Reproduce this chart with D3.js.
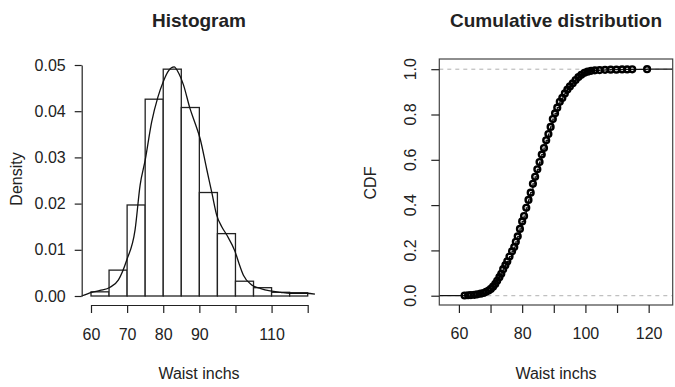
<!DOCTYPE html>
<html>
<head>
<meta charset="utf-8">
<script src="https://cdn.jsdelivr.net/npm/d3@7"></script>
<style>
  body { margin: 0; background: #fff; }
  svg text { font-family: "Liberation Sans", Arial, sans-serif; fill: #222; }
</style>
</head>
<body>
<div id="chart"></div>
<script>
// histogram bins (density per 5-inch bin)
const binStarts = [60, 65, 70, 75, 80, 85, 90, 95, 100, 105, 110, 115];
const binDensity = [0.0009, 0.0056, 0.0197, 0.0426, 0.0491, 0.0408, 0.0224, 0.0135, 0.0032, 0.0018, 0.0008, 0.0007];
const binWidth = 5;

// kernel density curve
const densX = [57.4, 60.2, 62.5, 65.3, 67.6, 69.9, 72.2, 73.6, 75.0, 76.8, 78.5, 80.0, 81.5, 83.0, 84.3, 85.6, 87.4, 89.0, 90.2, 92.0, 93.5, 94.8, 96.2, 97.6, 99.9, 101.0, 102.2, 104.5, 107.0, 109.6, 112.5, 115.1, 117.5, 119.7, 122.0];
const densY = [0.0000, 0.0008, 0.0012, 0.0019, 0.0035, 0.0078, 0.0143, 0.0240, 0.0294, 0.0377, 0.0430, 0.0464, 0.0488, 0.0496, 0.0482, 0.0457, 0.0406, 0.0370, 0.0341, 0.0276, 0.0222, 0.0175, 0.0150, 0.0132, 0.0096, 0.0070, 0.0045, 0.0024, 0.0016, 0.0011, 0.0008, 0.0006, 0.0006, 0.0006, 0.0004];

// empirical CDF points
const waist = [61.8, 62.9, 63.8, 64.9, 65.8, 66.9, 67.8, 68.6, 69.4, 70.1, 70.8, 71.5, 72.1, 72.8, 73.4, 74.0, 74.7, 75.3, 76.0, 76.8, 77.5, 78.0, 78.6, 79.3, 80.0, 80.6, 81.3, 82.0, 82.7, 83.4, 84.1, 84.8, 85.5, 86.2, 86.9, 87.6, 88.3, 89.0, 89.7, 90.4, 91.1, 91.9, 92.7, 93.5, 94.3, 95.1, 96.0, 96.9, 97.8, 98.7, 99.7, 100.7, 101.8, 103.0, 104.5, 106.2, 108.0, 109.8, 111.6, 113.2, 114.8, 119.5];
const cdf = [0.001, 0.002, 0.003, 0.004, 0.006, 0.009, 0.012, 0.017, 0.023, 0.030, 0.040, 0.052, 0.066, 0.082, 0.097, 0.117, 0.135, 0.152, 0.173, 0.196, 0.215, 0.238, 0.262, 0.295, 0.328, 0.352, 0.388, 0.423, 0.455, 0.494, 0.525, 0.558, 0.590, 0.623, 0.652, 0.686, 0.714, 0.745, 0.780, 0.805, 0.830, 0.856, 0.873, 0.893, 0.910, 0.924, 0.938, 0.952, 0.965, 0.975, 0.984, 0.989, 0.993, 0.995, 0.996, 0.997, 0.998, 0.998, 0.999, 0.999, 0.9995, 1.0];

// ticks
const histXTicks = [60, 70, 80, 90, 100, 110, 120];
const histXLabels = ["60", "70", "80", "90", "", "110", ""];
const histYTicks = [0, 0.01, 0.02, 0.03, 0.04, 0.05];
const cdfXTicks = [60, 70, 80, 90, 100, 110, 120];
const cdfXLabels = ["60", "", "80", "", "100", "", "120"];
const cdfYTicks = [0, 0.2, 0.4, 0.6, 0.8, 1.0];

const width = 675, height = 387;
const svg = d3.select("#chart").append("svg")
  .attr("width", width)
  .attr("height", height);

// ---------- left: histogram ----------
const hx = d3.scaleLinear().domain([60, 120]).range([91, 307.7]);
const hy = d3.scaleLinear().domain([0, 0.05]).range([296, 65]);

const left = svg.append("g");

left.selectAll(".bar")
  .data(binStarts)
  .enter()
  .append("rect")
  .attr("class", "bar")
  .attr("x", (d) => hx(d))
  .attr("width", (d) => hx(d + binWidth) - hx(d))
  .attr("y", (d, i) => hy(binDensity[i]))
  .attr("height", (d, i) => hy(0) - hy(binDensity[i]))
  .attr("fill", "#fff")
  .attr("stroke", "#222")
  .attr("stroke-width", 1.3);

const densLine = d3.line()
  .x((d) => hx(d[0]))
  .y((d) => hy(d[1]))
  .curve(d3.curveMonotoneX);

left.append("path")
  .datum(densX.map((v, i) => [v, densY[i]]))
  .attr("d", densLine)
  .attr("fill", "none")
  .attr("stroke", "#111")
  .attr("stroke-width", 1.3);

const hxAxis = left.append("g")
  .attr("transform", "translate(0,305)")
  .call(d3.axisBottom(hx).tickValues(histXTicks).tickSize(8).tickSizeOuter(0).tickPadding(16)
    .tickFormat((d, i) => histXLabels[i]));

const hyAxis = left.append("g")
  .attr("transform", "translate(81.7,0)")
  .call(d3.axisLeft(hy).tickValues(histYTicks).tickSize(7).tickSizeOuter(0).tickPadding(9)
    .tickFormat(d3.format(".2f")));

[hxAxis, hyAxis].forEach((g) => {
  g.selectAll("path, line").attr("stroke", "#222").attr("stroke-width", 1.2);
  g.selectAll("text").style("font-size", "16px").attr("fill", "#222");
});

left.append("text")
  .attr("x", 199)
  .attr("y", 27)
  .attr("text-anchor", "middle")
  .style("font-size", "19px")
  .style("font-weight", "bold")
  .text("Histogram");

left.append("text")
  .attr("x", 199)
  .attr("y", 379)
  .attr("text-anchor", "middle")
  .style("font-size", "16px")
  .text("Waist inchs");

left.append("text")
  .attr("transform", "translate(21.5,179) rotate(-90)")
  .attr("text-anchor", "middle")
  .style("font-size", "16px")
  .text("Density");

// ---------- right: cumulative distribution ----------
const cx = d3.scaleLinear().domain([53.8, 127.6]).range([439.3, 672.7]);
const cy = d3.scaleLinear().domain([-0.041, 1.045]).range([305, 59]);

const right = svg.append("g");

// dashed reference lines at 0 and 1
right.selectAll(".ref")
  .data([0, 1])
  .enter()
  .append("line")
  .attr("x1", cx.range()[0])
  .attr("x2", cx.range()[1])
  .attr("y1", (d) => cy(d))
  .attr("y2", (d) => cy(d))
  .attr("stroke", "#b0b0b0")
  .attr("stroke-width", 1)
  .attr("stroke-dasharray", "4,4");

// step function
const stepPts = [[cx.domain()[0], 0]]
  .concat(waist.map((v, i) => [v, cdf[i]]))
  .concat([[cx.domain()[1], 1]]);

right.append("path")
  .datum(stepPts)
  .attr("d", d3.line().x((d) => cx(d[0])).y((d) => cy(d[1])).curve(d3.curveStepAfter))
  .attr("fill", "none")
  .attr("stroke", "#111")
  .attr("stroke-width", 1.2);

right.selectAll(".pt")
  .data(waist)
  .enter()
  .append("circle")
  .attr("class", "pt")
  .attr("cx", (d) => cx(d))
  .attr("cy", (d, i) => cy(cdf[i]))
  .attr("r", 2.9)
  .attr("fill", "none")
  .attr("stroke", "#000")
  .attr("stroke-width", 2.4);

// box
right.append("rect")
  .attr("x", 439.3)
  .attr("y", 59)
  .attr("width", 672.7 - 439.3)
  .attr("height", 305 - 59)
  .attr("fill", "none")
  .attr("stroke", "#444")
  .attr("stroke-width", 1.2);

const cxAxis = right.append("g")
  .attr("transform", "translate(0,305)")
  .call(d3.axisBottom(cx).tickValues(cdfXTicks).tickSize(8).tickSizeOuter(0).tickPadding(15)
    .tickFormat((d, i) => cdfXLabels[i]));
cxAxis.select(".domain").remove();

const cyAxis = right.append("g")
  .attr("transform", "translate(439.3,0)")
  .call(d3.axisLeft(cy).tickValues(cdfYTicks).tickSize(8).tickSizeOuter(0).tickFormat(""));
cyAxis.select(".domain").remove();

[cxAxis, cyAxis].forEach((g) => {
  g.selectAll("line").attr("stroke", "#222").attr("stroke-width", 1.2);
  g.selectAll("text").style("font-size", "16px").attr("fill", "#222");
});

// rotated y tick labels
right.selectAll(".ylab")
  .data(cdfYTicks)
  .enter()
  .append("text")
  .attr("class", "ylab")
  .attr("transform", (d) => "translate(416," + cy(d) + ") rotate(-90)")
  .attr("text-anchor", "middle")
  .style("font-size", "16px")
  .text(d3.format(".1f"));

right.append("text")
  .attr("x", 556)
  .attr("y", 27)
  .attr("text-anchor", "middle")
  .style("font-size", "19px")
  .style("font-weight", "bold")
  .text("Cumulative distribution");

right.append("text")
  .attr("x", 556)
  .attr("y", 379)
  .attr("text-anchor", "middle")
  .style("font-size", "16px")
  .text("Waist inchs");

right.append("text")
  .attr("transform", "translate(375.5,183) rotate(-90)")
  .attr("text-anchor", "middle")
  .style("font-size", "16px")
  .text("CDF");
</script>
</body>
</html>
